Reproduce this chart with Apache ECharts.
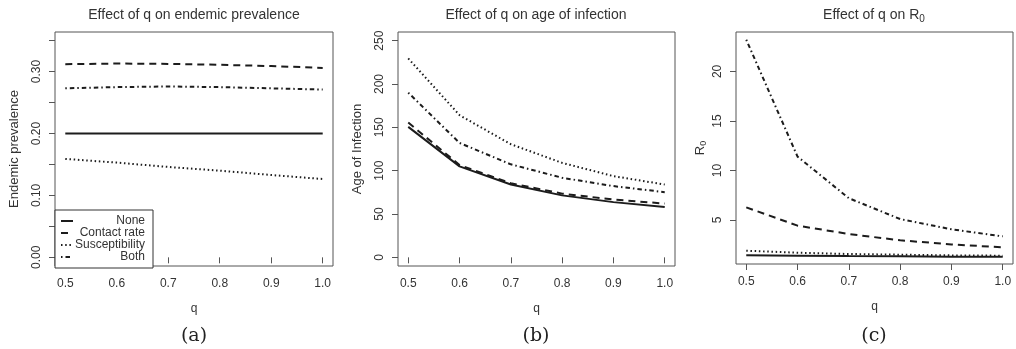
<!DOCTYPE html>
<html>
<head>
<meta charset="utf-8">
<script src="https://cdn.jsdelivr.net/npm/echarts@6/dist/echarts.min.js"></script>
<style>
  html, body { margin: 0; padding: 0; background: #fff; }
  #chart { width: 1016px; height: 349px; }
</style>
</head>
<body>
<div id="chart"></div>
<script>
var qValues = [0.5, 0.6, 0.7, 0.8, 0.9, 1.0];
var seriesNames = ['None', 'Contact rate', 'Susceptibility', 'Both'];

// (a) endemic prevalence
var prevNone = [0.200, 0.200, 0.200, 0.200, 0.200, 0.200];
var prevContact = [0.312, 0.313, 0.3125, 0.311, 0.309, 0.306];
var prevSuscept = [0.159, 0.153, 0.146, 0.140, 0.133, 0.1265];
var prevBoth = [0.273, 0.275, 0.276, 0.275, 0.273, 0.271];

// (b) age of infection
var ageNone = [150.5, 105, 84, 71.5, 63.7, 58];
var ageContact = [155.5, 106.5, 85.5, 73.5, 66.7, 62];
var ageSuscept = [229.5, 164, 130.5, 109, 93.7, 84];
var ageBoth = [190, 132, 107.3, 91.8, 82.2, 75.2];

// (c) R0
var r0None = [1.45, 1.4, 1.36, 1.33, 1.3, 1.28];
var r0Contact = [6.28, 4.43, 3.59, 2.95, 2.54, 2.24];
var r0Suscept = [1.9, 1.7, 1.57, 1.5, 1.43, 1.4];
var r0Both = [23.2, 11.4, 7.2, 5.1, 4.06, 3.35];

var xTicks = [0.5, 0.6, 0.7, 0.8, 0.9, 1.0];
var prevTicks = [0, 0.05, 0.1, 0.15, 0.2, 0.25, 0.3, 0.35];
var prevLabels = [0, 0.1, 0.2, 0.3];
var ageTicks = [0, 50, 100, 150, 200, 250];
var r0Ticks = [5, 10, 15, 20];

var font = 'Liberation Sans';
var textCol = '#333';
var boxCol = '#555';
var lineCol = '#1c1c1c';

var lineTypes = {
    'None': 'solid',
    'Contact rate': [7, 5],
    'Susceptibility': [1.5, 2.7],
    'Both': [1.5, 3, 4.5, 3]
};

var chart = echarts.init(document.getElementById('chart'));

function pairs(ys) {
    return qValues.map(function (q, i) { return [q, ys[i]]; });
}

function makeX(idx) {
    return {
        type: 'value', gridIndex: idx, min: 0.48, max: 1.02,
        name: 'q', nameLocation: 'middle', nameGap: 37,
        nameTextStyle: { fontFamily: font, fontSize: 12, color: textCol },
        axisLine: { show: false },
        splitLine: { show: false },
        axisTick: { show: true, length: 6, lineStyle: { color: boxCol }, customValues: xTicks },
        axisLabel: {
            fontFamily: font, fontSize: 12, color: textCol, margin: 12,
            customValues: xTicks,
            formatter: function (v) { return v.toFixed(1); }
        }
    };
}

function makeY(idx, min, max, ticks, labels, digits, name, gap, rich) {
    return {
        type: 'value', gridIndex: idx, min: min, max: max,
        name: name, nameLocation: 'middle', nameGap: gap,
        nameTextStyle: { fontFamily: font, fontSize: 13, color: textCol, rich: rich },
        axisLine: { show: false },
        splitLine: { show: false },
        axisTick: { show: true, length: 6, lineStyle: { color: boxCol }, customValues: ticks },
        axisLabel: {
            fontFamily: font, fontSize: 12, color: textCol, margin: 12, rotate: 90,
            customValues: labels,
            formatter: function (v) { return v.toFixed(digits); }
        }
    };
}

function makeSeries(idx, lists) {
    return seriesNames.map(function (name, i) {
        return {
            name: name, type: 'line', xAxisIndex: idx, yAxisIndex: idx,
            symbol: 'none', silent: true, animation: false,
            lineStyle: { color: lineCol, width: 2, type: lineTypes[name], cap: 'butt' },
            data: pairs(lists[i])
        };
    });
}

// graphic text uses fill, not color
var subRich = {
    t: { fontFamily: font, fontSize: 14, fontWeight: 'normal', fill: textCol, lineHeight: 18 },
    s: { fontFamily: font, fontSize: 10, fontWeight: 'normal', fill: textCol, lineHeight: 18, verticalAlign: 'bottom' }
};
var nameRich = {
    t: { fontFamily: font, fontSize: 13, color: textCol, lineHeight: 16 },
    s: { fontFamily: font, fontSize: 9, color: textCol, lineHeight: 16, verticalAlign: 'bottom' }
};

function label(x, y, text, extra) {
    var style = { text: text, fontFamily: font, fontSize: 14, fontWeight: 'normal', fill: textCol, textAlign: 'center', textVerticalAlign: 'middle' };
    for (var k in extra) { style[k] = extra[k]; }
    return { type: 'text', x: x, y: y, silent: true, style: style };
}

var serif = { fontFamily: 'DejaVu Serif', fontSize: 19, fill: '#222' };

var option = {
    backgroundColor: '#fff',
    animation: false,
    grid: [
        { left: 55, top: 32, width: 278, height: 234, show: true, borderColor: boxCol, borderWidth: 1 },
        { left: 398, top: 32, width: 277, height: 234, show: true, borderColor: boxCol, borderWidth: 1 },
        { left: 736, top: 32, width: 277, height: 232, show: true, borderColor: boxCol, borderWidth: 1 }
    ],
    xAxis: [makeX(0), makeX(1), makeX(2)],
    yAxis: [
        makeY(0, -0.014, 0.364, prevTicks, prevLabels, 2, 'Endemic prevalence', 34),
        makeY(1, -10, 260, ageTicks, ageTicks, 0, 'Age of Infection', 34),
        makeY(2, 0.56, 23.98, r0Ticks, r0Ticks, 0, '{t|R}{s|0}', 28, nameRich)
    ],
    legend: {
        data: seriesNames,
        orient: 'vertical',
        left: 55, top: 210,
        padding: [5, 8, 5, 5],
        itemGap: 0,
        itemWidth: 12, itemHeight: 8,
        borderColor: '#333', borderWidth: 1,
        backgroundColor: '#fff',
        selectedMode: false,
        itemStyle: { opacity: 0 },
        formatter: function (name) { return '{r|' + name + '}'; },
        textStyle: {
            rich: { r: { fontFamily: font, fontSize: 12, color: textCol, width: 67, align: 'right', lineHeight: 11 } }
        }
    },
    graphic: [
        label(194, 15, 'Effect of q on endemic prevalence'),
        label(536, 15, 'Effect of q on age of infection'),
        { type: 'text', x: 874, y: 15, silent: true, style: { text: '{t|Effect of q on R}{s|0}', rich: subRich, fill: textCol, textAlign: 'center', textVerticalAlign: 'middle' } },
        label(194, 336, '(a)', serif),
        label(536, 336, '(b)', serif),
        label(874, 336, '(c)', serif)
    ],
    series: [].concat(
        makeSeries(0, [prevNone, prevContact, prevSuscept, prevBoth]),
        makeSeries(1, [ageNone, ageContact, ageSuscept, ageBoth]),
        makeSeries(2, [r0None, r0Contact, r0Suscept, r0Both])
    )
};
chart.setOption(option);
</script>
</body>
</html>
